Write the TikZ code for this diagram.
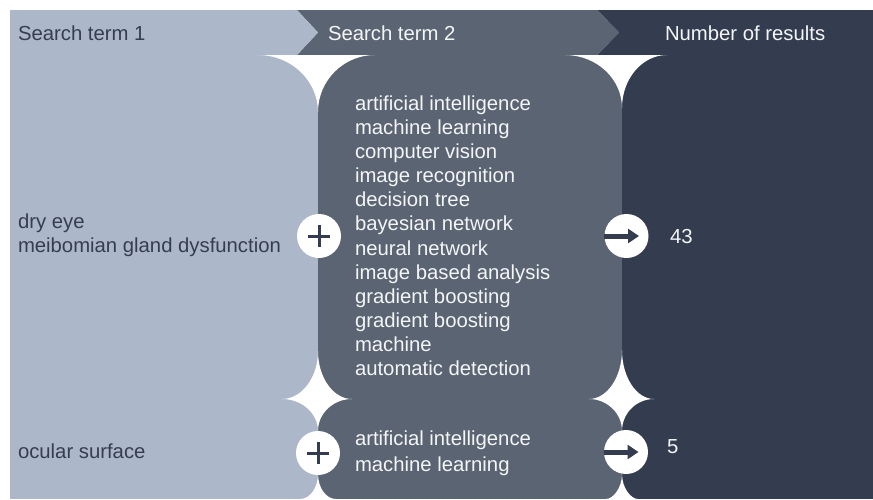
\documentclass[tikz,border=0pt]{standalone}
\usepackage{fontspec}
\setmainfont{Liberation Sans}
\usetikzlibrary{arrows.meta}
\definecolor{colL}{HTML}{ACB8CA}
\definecolor{colM}{HTML}{5B6472}
\definecolor{colD}{HTML}{343D50}
\definecolor{txtD}{HTML}{363E4E}
\definecolor{txtW}{HTML}{F4F5F7}
\begin{document}
\begin{tikzpicture}[x=1pt,y=-1pt,
  lbl/.style={inner sep=0pt, outer sep=0pt, font=\fontsize{20.3}{24.1}\selectfont, align=left},
  lbltwo/.style={inner sep=0pt, outer sep=0pt, font=\fontsize{20.3}{26}\selectfont, align=left},
  dlbl/.style={lbl, text=txtD},
  wlbl/.style={lbl, text=txtW},
  btn/.style={circle, fill=white, inner sep=0pt, minimum size=44pt},
  plusline/.style={draw=colD, line width=3pt},
  arrowline/.style={draw=colD, line width=5pt, -{Triangle[length=11pt,width=14pt]}},
  gap/.style={fill=white}]
\useasboundingbox (0,0) rectangle (873,499);
% column backgrounds
\fill[colL] (10,55) rectangle (318,499);
\fill[colM] (318,55) rectangle (622,499);
\fill[colD] (622,55) rectangle (873,499);
% header band with chevrons
\fill[colD] (597,10) -- (873,10) -- (873,55) -- (597,55) -- (619,32.5) -- cycle;
\fill[colM] (297,10) -- (597,10) -- (619,32.5) -- (597,55) -- (297,55) -- (318,32.5) -- cycle;
\fill[colL] (10,10) -- (297,10) -- (318,32.5) -- (297,55) -- (10,55) -- cycle;
% top funnels
\fill[gap] (258,55) .. controls (291.1,55) and (318,80.5) .. (318,112)
  .. controls (318,80.5) and (343.5,55) .. (375,55) -- cycle;
\fill[gap] (565,55) .. controls (596.5,55) and (622,78.7) .. (622,108)
  .. controls (622,78.7) and (642.2,55) .. (667,55) -- cycle;
% stars between rows
\fill[gap] (318,351) .. controls (318,377.5) and (301.9,399) .. (282,399)
  .. controls (301.9,399) and (318,413.3) .. (318,431)
  .. controls (318,413.3) and (333.2,399) .. (352,399)
  .. controls (333.2,399) and (318,377.5) .. (318,351) -- cycle;
\fill[gap] (622,350) .. controls (622,377) and (607.2,399) .. (589,399)
  .. controls (607.2,399) and (622,413.3) .. (622,431)
  .. controls (622,413.3) and (636.3,399) .. (654,399)
  .. controls (636.3,399) and (622,377) .. (622,350) -- cycle;
% bottom funnels
\fill[gap] (318,474) .. controls (318,487.8) and (309.9,499) .. (300,499)
  -- (336,499) .. controls (326.1,499) and (318,487.8) .. (318,474) -- cycle;
\fill[gap] (622,474) .. controls (622,487.8) and (613.2,499) .. (606,499)
  -- (638,499) .. controls (630.8,499) and (622,487.8) .. (622,474) -- cycle;
% buttons
\node[btn] (plus1) at (319,236) {};
\node[btn] (plus2) at (318,453) {};
\node[btn] (arr1) at (626.5,236) {};
\node[btn] (arr2) at (626,452) {};
\draw[plusline] ([xshift=-11pt]plus1.center) -- ([xshift=11pt]plus1.center);
\draw[plusline] ([yshift=-11pt]plus1.center) -- ([yshift=11pt]plus1.center);
\draw[plusline] ([xshift=-11pt]plus2.center) -- ([xshift=11pt]plus2.center);
\draw[plusline] ([yshift=-11pt]plus2.center) -- ([yshift=11pt]plus2.center);
\draw[arrowline] (arr1.west) -- ([xshift=12.5pt]arr1.center);
\draw[arrowline] (arr2.west) -- ([xshift=12.5pt]arr2.center);
% header texts
\node[dlbl, anchor=base west] (h1) at (18,40) {Search term 1};
\node[wlbl, anchor=base west] (h2) at (328,40) {Search term 2};
\node[wlbl, anchor=base west] (h3) at (665,40) {Number of results};
% row 1
\node[dlbl, anchor=west] (t1) at (18,235) {dry eye\\meibomian gland dysfunction};
\node[wlbl, anchor=north west] (l1) at (355,95.7) {artificial intelligence\\machine learning\\computer vision\\image recognition\\decision tree\\bayesian network\\neural network\\image based analysis\\gradient boosting\\gradient boosting\\machine\\automatic detection};
\node[wlbl, anchor=base west] (n1) at (670,243.3) {43};
% row 2
\node[dlbl, anchor=base west] (t2) at (18,458) {ocular surface};
\node[lbltwo, text=txtW, anchor=north west] (l2) at (355,430.5) {artificial intelligence\\machine learning};
\node[wlbl, anchor=base west] (n2) at (667,453) {5};
\end{tikzpicture}
\end{document}
